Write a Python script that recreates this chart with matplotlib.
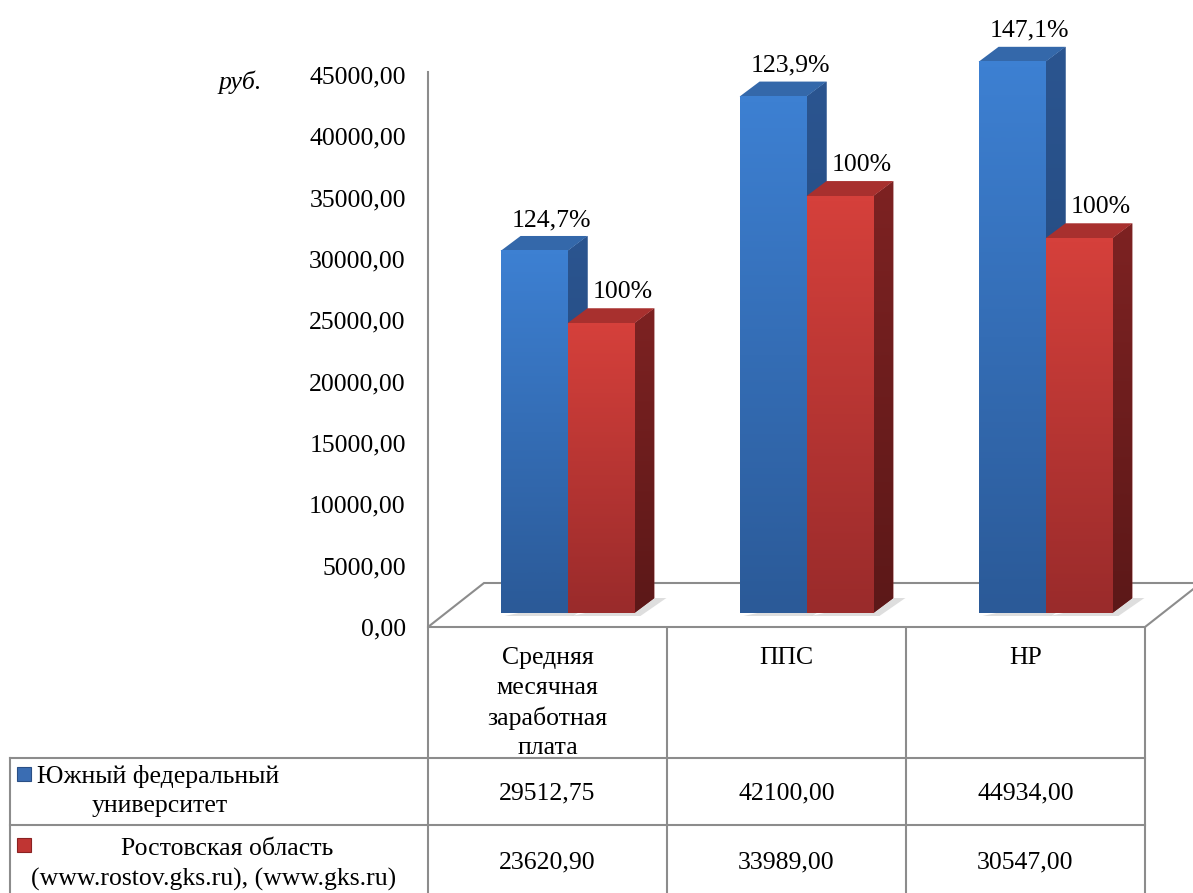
import numpy as np
import matplotlib
matplotlib.use("Agg")
import matplotlib.pyplot as plt
from matplotlib.patches import Polygon, Rectangle
from matplotlib.colors import LinearSegmentedColormap

plt.rcParams['font.family'] = ['Liberation Serif', 'DejaVu Serif']

# данные
categories = ["Средняя\nмесячная\nзаработная\nплата", "ППС", "НР"]
series_names = ["Южный федеральный\nуниверситет",
                "Ростовская область\n(www.rostov.gks.ru), (www.gks.ru)"]
sfedu = [29512.75, 42100.00, 44934.00]
rostov = [23620.90, 33989.00, 30547.00]
sfedu_pct = ["124,7%", "123,9%", "147,1%"]
rostov_pct = ["100%", "100%", "100%"]
yticks = np.arange(0, 45001, 5000)

FS = 18.5
W, H = 1193, 893
fig = plt.figure(figsize=(W / 100, H / 100), dpi=100)

# размеры в пикселях
ax_left, ax_bottom, ax_right = 428, 627, 1193
px_cat = 239.0          # пикселей на категорию
px_val = 552.0 / 45000  # пикселей на рубль
ymax = ax_bottom / px_val

ax = fig.add_axes([ax_left / W, (H - ax_bottom) / H, (ax_right - ax_left) / W, ax_bottom / H])
ax.patch.set_visible(False)

def dx(p):
    return p / px_cat

def dy(p):
    return p / px_val

# пол
fd_x, fd_y = dx(56), dy(44)
floor = Polygon([(-0.5, 0), (2.5, 0), (2.5 + fd_x, fd_y), (-0.5 + fd_x, fd_y)],
                closed=True, facecolor='white', edgecolor='#8c8c8c', lw=1.5, zorder=1, clip_on=False)
ax.add_patch(floor)

def grad(x0, x1, y0, y1, c_bot, c_top, z):
    g = np.linspace(0, 1, 64).reshape(-1, 1)
    cm = LinearSegmentedColormap.from_list('g', [c_bot, c_top])
    return ax.imshow(g, extent=[x0, x1, y0, y1], origin='lower', cmap=cm, aspect='auto',
                     zorder=z, interpolation='bilinear')

off_x, off_y = dx(20), dy(14)    # смещение передней грани в глубину
bd_x, bd_y = dx(20), dy(15)      # глубина столбика
bw = 0.28

styles = [
    dict(front=('#2b5a98', '#3d80d2'), side=('#1f4272', '#2b5590'), top='#3468aa'),
    dict(front=('#9a2b2b', '#d5403b'), side=('#5c1818', '#7d2222'), top='#a8302e'),
]
lab_shift = [dx(7), dx(12)]

z = 3
for i in range(len(categories)):
    for k, (vals, labs) in enumerate([(sfedu, sfedu_pct), (rostov, rostov_pct)]):
        v = vals[i]
        st = styles[k]
        x0 = i - bw + k * bw + off_x
        x1 = x0 + bw
        y0 = off_y
        y1 = off_y + v
        # тень на полу
        ax.add_patch(Polygon([(x0 + dx(4), y0 - dy(3)), (x1 + dx(6), y0 - dy(3)),
                              (x1 + bd_x + dx(12), y0 + bd_y), (x1 + bd_x, y0 + bd_y)],
                             closed=True, facecolor='#d0d0d0', edgecolor='none', alpha=0.7, zorder=2))
        # боковая грань
        side = Polygon([(x1, y0), (x1 + bd_x, y0 + bd_y), (x1 + bd_x, y1 + bd_y), (x1, y1)], closed=True,
                       facecolor=st['side'][1], edgecolor='none', zorder=z)
        ax.add_patch(side)
        im = grad(x1, x1 + bd_x, y0, y1 + bd_y, st['side'][0], st['side'][1], z + 0.1)
        im.set_clip_path(side)
        # верхняя грань
        ax.add_patch(Polygon([(x0, y1), (x1, y1), (x1 + bd_x, y1 + bd_y), (x0 + bd_x, y1 + bd_y)], closed=True,
                             facecolor=st['top'], edgecolor='none', zorder=z + 0.2))
        # передняя грань
        grad(x0, x1, y0, y1, st['front'][0], st['front'][1], z + 0.3)
        ax.bar(x0, v, width=bw, bottom=y0, align='edge', facecolor='none', edgecolor='none', zorder=z + 0.4)
        # подпись
        ax.text((x0 + x1) / 2 + bd_x / 2 + lab_shift[k], y1 + bd_y + dy(5), labs[i], ha='center', va='bottom',
                fontsize=FS, zorder=20)
        z += 1

ax.set_xlim(-0.5, -0.5 + (ax_right - ax_left) / px_cat)
ax.set_ylim(0, ymax)

for s in ['top', 'right', 'bottom']:
    ax.spines[s].set_visible(False)
ax.spines['left'].set_color('#8c8c8c')
ax.spines['left'].set_linewidth(1.5)
ax.spines['left'].set_bounds(0, 45250)
ax.set_xticks([])
ax.set_yticks(yticks)
ax.set_yticklabels([f"{t:.2f}".replace('.', ',') for t in yticks])
ax.tick_params(axis='y', length=0, pad=16, labelsize=FS)

fig.text(240 / W, 1 - 82 / H, "руб.", style='italic', fontsize=FS, ha='center', va='center')

# таблица данных
tb = fig.add_axes([0, 0, 1, 1], zorder=-1)
tb.set_xlim(0, W)
tb.set_ylim(H, 0)
tb.axis('off')
lc = '#8c8c8c'
col_x = [428 + px_cat * j for j in range(4)]
for x in col_x:
    tb.plot([x, x], [627, H], color=lc, lw=1.5)
for y in [758, 825]:
    tb.plot([10, col_x[-1]], [y, y], color=lc, lw=1.5)
tb.plot([10, 10], [758, H], color=lc, lw=1.5)

for j, c in enumerate(categories):
    for n, line in enumerate(c.split('\n')):
        tb.text((col_x[j] + col_x[j + 1]) / 2, 658 + 30 * n, line, ha='center', va='center', fontsize=FS)

for j in range(3):
    cx = (col_x[j] + col_x[j + 1]) / 2
    tb.text(cx, 793, f"{sfedu[j]:.2f}".replace('.', ','), ha='center', va='center', fontsize=FS)
    tb.text(cx, 862, f"{rostov[j]:.2f}".replace('.', ','), ha='center', va='center', fontsize=FS)

# подписи рядов в таблице
name_pos = [[(158, 776), (160, 806)], [(227, 849), (214, 879)]]
for name, pos in zip(series_names, name_pos):
    for line, (x, y) in zip(name.split('\n'), pos):
        tb.text(x, y, line, ha='center', va='center', fontsize=FS)
tb.add_patch(Rectangle((17, 767), 14, 14, facecolor='#3a6db3', edgecolor='#2a4f85', lw=0.8))
tb.add_patch(Rectangle((17, 838), 14, 14, facecolor='#c03533', edgecolor='#8a2222', lw=0.8))

fig.savefig("out.png", dpi=100)
